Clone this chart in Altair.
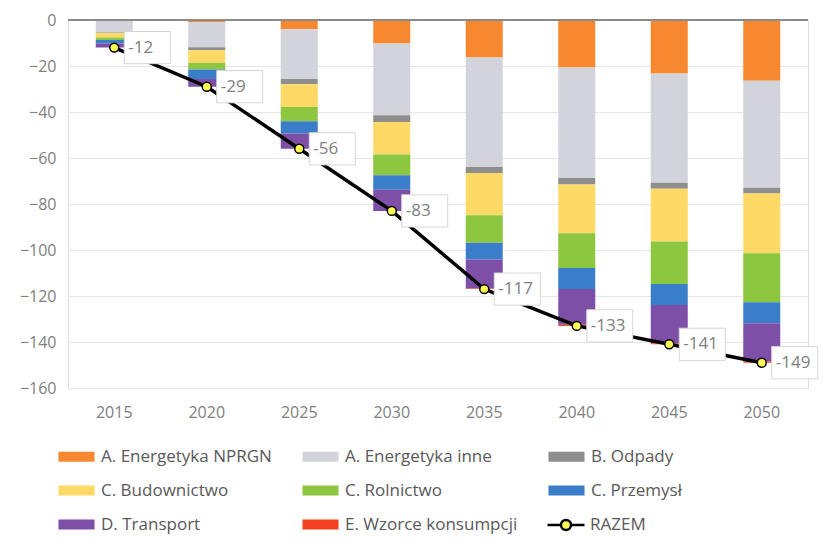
import altair as alt
import pandas as pd

years = ["2015", "2020", "2025", "2030", "2035", "2040", "2045", "2050"]
categories = [
    "A. Energetyka NPRGN", "A. Energetyka inne", "B. Odpady",
    "C. Budownictwo", "C. Rolnictwo", "C. Przemysł",
    "D. Transport", "E. Wzorce konsumpcji",
]
colors = ["#F7882F", "#D3D3DB", "#8E8E8E", "#FFD966", "#8DC63F", "#3A7DC9", "#7E4FA6", "#F4411F"]

nprgn = [-0.3, -1.0, -4.0, -10.2, -16.3, -20.6, -23.3, -26.4]
inne = [-5.1, -10.9, -21.6, -31.2, -47.6, -48.1, -47.5, -46.5]
odpady = [-0.3, -1.2, -2.3, -2.9, -2.6, -2.8, -2.6, -2.5]
budownictwo = [-1.9, -5.5, -9.9, -14.2, -18.4, -21.2, -22.9, -26.0]
rolnictwo = [-1.1, -2.9, -6.2, -9.0, -11.9, -15.1, -18.5, -21.3]
przemysl = [-1.5, -4.1, -5.4, -6.3, -7.3, -9.2, -9.1, -9.2]
transport = [-1.8, -3.4, -6.6, -9.2, -12.6, -15.5, -16.6, -16.6]
wzorce = [0.0, 0.0, 0.0, 0.0, -0.3, -0.5, -0.5, -0.5]
razem = [-12, -29, -56, -83, -117, -133, -141, -149]

series = [nprgn, inne, odpady, budownictwo, rolnictwo, przemysl, transport, wzorce]

rows = []
for ci, (cat, vals) in enumerate(zip(categories, series)):
    for yr, v in zip(years, vals):
        rows.append({"year": yr, "cat": cat, "value": v, "idx": ci})
df = pd.DataFrame(rows)
tot = pd.DataFrame({"year": years, "total": razem, "series": ["RAZEM"] * len(years),
                    "label": [str(v) for v in razem]})

FONT = "Open Sans"
GRAY = "#595959"
AXGRAY = "#808080"

x_enc = alt.X("year:N", title=None, sort=years,
              scale=alt.Scale(paddingInner=0.6, paddingOuter=0.3),
              axis=alt.Axis(labelAngle=0, labelFontSize=16, labelColor=AXGRAY, labelFont=FONT,
                            labelPadding=16, domain=False, ticks=False, grid=False))
y_scale = alt.Scale(domain=[-160, 0], nice=False)

bars = alt.Chart(df).mark_bar().encode(
    x=x_enc,
    y=alt.Y("value:Q", stack="zero", scale=y_scale, title=None,
            axis=alt.Axis(values=list(range(-160, 1, 20)), labelFontSize=16, labelColor=AXGRAY,
                          labelFont=FONT, domain=False, ticks=False, gridColor="#E6E6E6",
                          labelPadding=12)),
    color=alt.Color("cat:N", scale=alt.Scale(domain=categories, range=colors),
                    legend=alt.Legend(title=None, orient="none", legendX=-10, legendY=418,
                                      direction="horizontal",
                                      columns=3, symbolType="M-1,-0.28L1,-0.28L1,0.28L-1,0.28Z",
                                      symbolSize=1300, symbolStrokeWidth=0,
                                      labelFontSize=17, labelColor=GRAY, labelFont=FONT,
                                      rowPadding=7, columnPadding=30, labelLimit=400,
                                      labelOffset=6)),
    order=alt.Order("idx:Q", sort="ascending"),
)

zero = alt.Chart(tot).mark_rule(color="#8A8A8A", strokeWidth=1.2).encode(y=alt.datum(0))

razem_path = ("M-1,0L-0.27,0M0.27,0L1,0"
              "M-0.27,0A0.27,0.27 0 1,0 0.27,0A0.27,0.27 0 1,0 -0.27,0Z")

line = alt.Chart(tot).mark_line(strokeWidth=3.5).encode(
    x=x_enc,
    y=alt.Y("total:Q", scale=y_scale),
    stroke=alt.Stroke("series:N", scale=alt.Scale(domain=["RAZEM"], range=["black"]),
                      legend=alt.Legend(title=None, orient="none", legendX=478, legendY=485,
                                        symbolType=razem_path, symbolSize=1369,
                                        symbolFillColor="#FFFF55", symbolStrokeWidth=2.5,
                                        labelFontSize=17, labelColor=GRAY, labelFont=FONT,
                                        labelOffset=4)),
)

box_path = "M-1,-0.7L1,-0.7L1,0.7L-1,0.7Z"
boxes = alt.Chart(tot).mark_point(shape=box_path, size=2116, filled=True, fill="white",
                                  stroke="#D6D6D6", strokeWidth=1, opacity=1, xOffset=33).encode(
    x=x_enc, y=alt.Y("total:Q", scale=y_scale))

texts = alt.Chart(tot).mark_text(align="left", baseline="middle", dx=14, fontSize=17,
                                 color=AXGRAY, font=FONT).encode(
    x=x_enc, y=alt.Y("total:Q", scale=y_scale), text="label:N")

points = alt.Chart(tot).mark_point(filled=True, fill="#FFFF55", stroke="black", strokeWidth=1.5,
                                   size=80, opacity=1).encode(
    x=x_enc, y=alt.Y("total:Q", scale=y_scale))

chart = alt.layer(bars, zero, line, boxes, texts, points).properties(
    width=740, height=368,
    autosize=alt.AutoSizeParams(type="none"),
    padding={"left": 60, "top": 12, "right": 16, "bottom": 150},
).configure_view(stroke=None).configure(font=FONT)

chart.save("out.html", embed_options={"renderer": "svg", "actions": False})
